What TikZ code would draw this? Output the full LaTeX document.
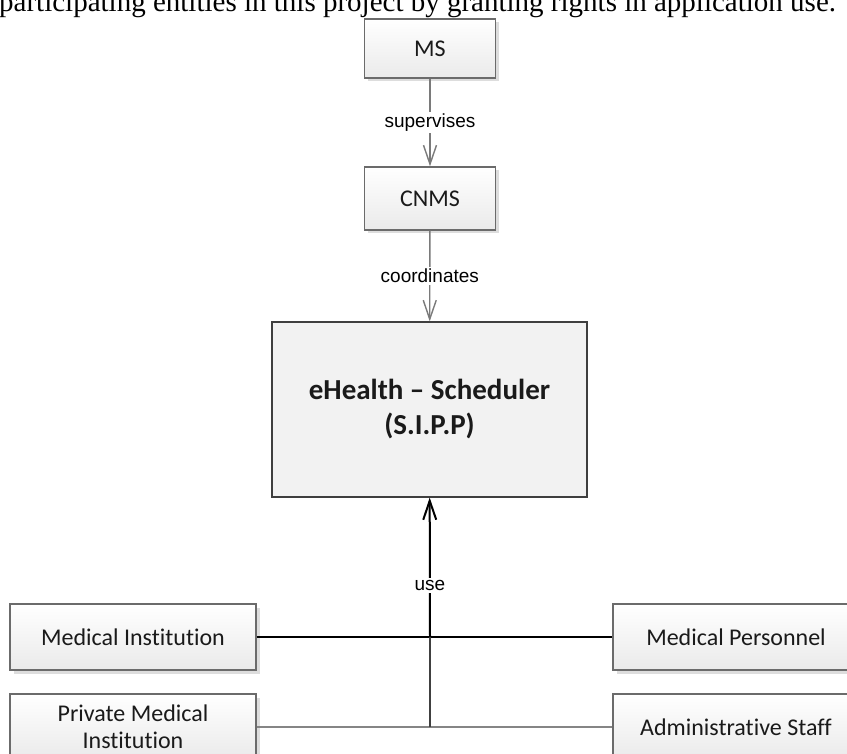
\documentclass[tikz,border=0pt]{standalone}
\usepackage{fontspec}
\setmainfont{Carlito}[Ligatures={NoCommon}]
\newfontfamily\labelfont{Liberation Sans}
\newfontfamily\captionfont{Liberation Serif}
\usetikzlibrary{arrows.meta,shadows}

\definecolor{boxline}{HTML}{6B6B6B}
\definecolor{boxbot}{HTML}{EAEAEA}
\definecolor{shadowgray}{HTML}{DDDDDD}
\definecolor{mainfill}{HTML}{F2F2F2}
\definecolor{mainline}{HTML}{3F3F3F}
\definecolor{connline}{HTML}{7A7A7A}
\definecolor{textdark}{HTML}{1A1A1A}

\tikzset{
  entity/.style={draw=boxline, line width=1.3pt, top color=white, bottom color=boxbot,
    text=textdark, align=center, inner sep=0pt,
    font=\fontsize{24}{27}\selectfont,
    drop shadow={shadow xshift=3.5pt, shadow yshift=-3.5pt, fill=shadowgray, opacity=1}},
  party/.style={entity, minimum width=246pt, minimum height=66pt},
  authority/.style={entity, minimum width=131pt},
  systembox/.style={draw=mainline, line width=1.3pt, fill=mainfill, text=textdark,
    align=center, inner sep=0pt, minimum width=315pt, minimum height=175pt,
    font=\bfseries\fontsize{29}{35}\selectfont},
  lbl/.style={fill=white, inner sep=2pt, text=black, font=\labelfont\fontsize{19}{22}\selectfont},
  vtip/.style={-{Straight Barb[length=19pt,width=13pt]}},
  conn/.style={draw=connline, line width=1.4pt, vtip},
  usearrow/.style={draw=black, line width=2pt, vtip},
  usestem/.style={draw=black!75, line width=1.8pt},
  tieline/.style={draw=black, line width=1.2pt},
  tielinelow/.style={draw=black!48, line width=2pt},
}

\begin{document}
\begin{tikzpicture}[x=1pt,y=-1pt]
\useasboundingbox (0,0) rectangle (847,754);
\clip (0,0) rectangle (847,754);

% running text above the figure
\node[anchor=base west, inner sep=0pt, font=\captionfont\fontsize{29}{34}\selectfont]
  (caption) at (-1,12) {participating entities in this project by granting rights in application use.};

% authorities
\node[authority, minimum height=59pt] (ms) at (430,48.5) {MS};
\node[authority, minimum height=63pt] (cnms) at (430,198.5) {CNMS};

% the system
\node[systembox] (sipp) at (429.5,409.5) {eHealth – Scheduler\\(S.I.P.P)};

% users
\node[party] (medinst) at (133,637) {Medical Institution};
\node[party] (medpers) at (736,637) {Medical Personnel};
\node[party] (privmed) at (133,727) {Private Medical\\Institution};
\node[party] (admin) at (736,727) {Administrative Staff};

% junctions on the vertical stem
\coordinate (j1) at (430,637);
\coordinate (j2) at (430,727);

% connectors
\draw[conn] (ms) -- node[lbl] {supervises} (cnms);
\draw[conn] (cnms) -- node[lbl] {coordinates} (sipp);

\draw[tieline] (medinst) -- (medpers);
\draw[tielinelow] (privmed) -- (admin);
\draw[usestem] (j2) -- (j1);
\draw[usearrow] (j1) -- node[lbl, pos=0.37] {use} (sipp);
\end{tikzpicture}
\end{document}
